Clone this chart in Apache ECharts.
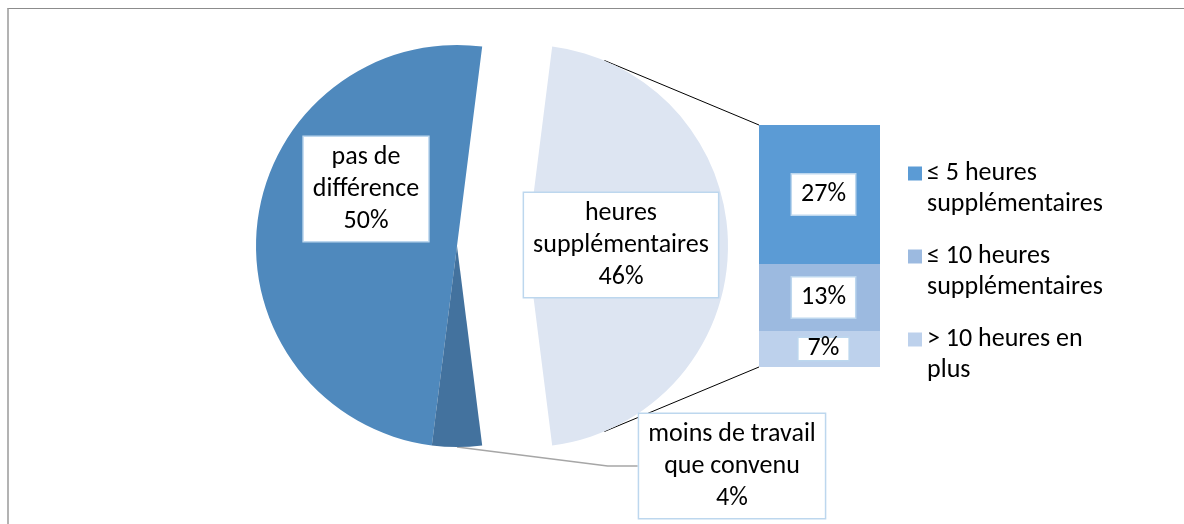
<!DOCTYPE html>
<html lang="fr">
<head>
<meta charset="UTF-8">
<title>Heures de travail</title>
<script src="https://cdn.jsdelivr.net/npm/echarts@6/dist/echarts.min.js"></script>
<style>
    html, body { margin: 0; padding: 0; background: #fff; }
    #wrap { position: relative; width: 1184px; height: 524px; }
    #container { width: 1184px; height: 524px; }
    #frame { position: absolute; left: 7px; top: 8px; right: 0; bottom: 0;
             border-top: 1px solid #8c8c8c; border-left: 2px solid #b3b3b3; pointer-events: none; }
</style>
</head>
<body>
<div id="wrap">
    <div id="container"></div>
    <div id="frame"></div>
</div>
<script type="text/javascript">
    // camembert principal
    var pieNames = ['pas de\ndifférence', 'moins de travail\nque convenu', 'heures\nsupplémentaires'];
    var pieValues = [50, 4, 46];
    // barre de détail des heures supplémentaires
    var barNames = ['≤ 5 heures\nsupplémentaires', '≤ 10 heures\nsupplémentaires', '> 10 heures en\nplus'];
    var barValues = [27, 13, 7];

    var pieColors = ['#4f89bd', '#43729e', '#dde5f2'];
    var barColors = ['#5b9bd5', '#9cbae0', '#bdd1ec'];
    var font = 'Carlito, Calibri, Lato, sans-serif';

    var pieCenter = [457, 246];
    var pieRadius = 201;
    var explode = 70;      // décalage du secteur "heures supplémentaires"
    var detailIndex = 2;
    var labelPos = [[366, 189], [732, 466], [621, 245]];
    var barLeft = 759, barTop = 125, barWidth = 121, barHeight = 242;

    var pieTotal = pieValues.reduce((a, b) => a + b, 0);
    var barTotal = barValues.reduce((a, b) => a + b, 0);

    var boxLabel = {
        color: '#000',
        fontFamily: font,
        fontSize: 26,
        lineHeight: 32,
        backgroundColor: '#fff',
        borderColor: '#bdd7ee',
        borderWidth: 1.5,
        padding: [4, 9]
    };

    var dom = document.getElementById('container');
    var myChart = echarts.init(dom, null, { renderer: 'canvas' });

    // même données pour les deux camemberts, chacun ne montre que ses secteurs
    function pieData(detached) {
        return pieNames.map(function (n, i) {
            var own = (i === detailIndex) === detached;
            var item = {
                name: n,
                value: pieValues[i],
                itemStyle: { color: own ? pieColors[i] : 'rgba(0,0,0,0)' },
                label: { show: own }
            };
            if (own && i === 1) {
                item.label.position = 'outside';
                item.labelLine = { show: true, lineStyle: { color: '#a6a6a6', width: 1.5 } };
            }
            return item;
        });
    }

    function pieSeries(center, detached) {
        return {
            type: 'pie',
            center: center,
            radius: pieRadius,
            clockwise: false,
            startAngle: pieValues[detailIndex] / pieTotal * 180,
            silent: true,
            emphasis: { disabled: true },
            data: pieData(detached),
            label: Object.assign({}, boxLabel, {
                position: 'inside',
                formatter: function (p) { return p.name + '\n' + p.value + '%'; }
            }),
            labelLine: { show: false },
            labelLayout: function (p) {
                var pos = labelPos[p.dataIndex];
                return { x: pos[0], y: pos[1], align: 'center', verticalAlign: 'middle' };
            }
        };
    }

    var barSeries = [];
    for (var i = barValues.length - 1; i >= 0; i--) {
        var lbl = Object.assign({}, boxLabel, {
            show: true,
            position: 'inside',
            offset: [4, 0],
            formatter: '{c}%'
        });
        if (i === 2) { lbl.padding = [0, 9]; lbl.lineHeight = 22; }
        barSeries.push({
            name: barNames[i],
            type: 'bar',
            stack: 'detail',
            barWidth: '100%',
            data: [barValues[i]],
            itemStyle: { color: barColors[i] },
            label: lbl,
            emphasis: { disabled: true }
        });
    }

    var sliceCenter = [pieCenter[0] + explode, pieCenter[1]];

    var option = {
        animation: false,
        legend: {
            orient: 'vertical',
            left: 903,
            top: 122,
            itemWidth: 14,
            itemHeight: 14,
            itemGap: -10,
            icon: 'rect',
            selectedMode: false,
            data: barNames,
            // ligne vide en tête : la première ligne du texte s'aligne sur le carré
            formatter: function (name) { return ' \n' + name; },
            textStyle: {
                color: '#000',
                fontFamily: font,
                fontSize: 26,
                lineHeight: 31
            }
        },
        grid: { left: barLeft, top: barTop, width: barWidth, height: barHeight },
        xAxis: { type: 'category', data: ['autres'], show: false },
        yAxis: { type: 'value', min: 0, max: barTotal, show: false },
        series: [pieSeries(pieCenter, false), pieSeries(sliceCenter, true)].concat(barSeries)
    };
    myChart.setOption(option);

    // lignes de liaison : tangentes du secteur détaché vers les coins de la barre
    function tangent(p, c, r, sign) {
        var dx = p[0] - c[0], dy = p[1] - c[1];
        var d = Math.sqrt(dx * dx + dy * dy);
        var a = Math.atan2(dy, dx) + sign * Math.acos(r / d);
        return [c[0] + r * Math.cos(a), c[1] + r * Math.sin(a)];
    }
    var yTop = myChart.convertToPixel({ yAxisIndex: 0 }, barTotal);
    var yBottom = myChart.convertToPixel({ yAxisIndex: 0 }, 0);
    var cTop = [barLeft, yTop], cBottom = [barLeft, yBottom];
    var tTop = tangent(cTop, sliceCenter, pieRadius, -1);
    var tBottom = tangent(cBottom, sliceCenter, pieRadius, 1);
    myChart.setOption({
        graphic: [
            { type: 'line', shape: { x1: tTop[0], y1: tTop[1], x2: cTop[0], y2: cTop[1] }, style: { stroke: '#000', lineWidth: 1 } },
            { type: 'line', shape: { x1: tBottom[0], y1: tBottom[1], x2: cBottom[0], y2: cBottom[1] }, style: { stroke: '#000', lineWidth: 1 } }
        ]
    });

    window.addEventListener('resize', myChart.resize);
</script>
</body>
</html>
